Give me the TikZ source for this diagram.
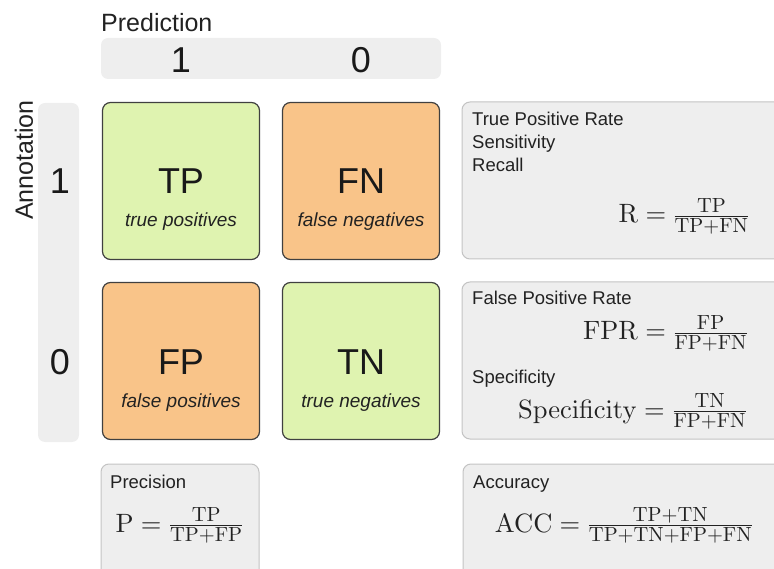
\documentclass[tikz,border=0pt]{standalone}
\usepackage{fix-cm}
\usepackage[no-math]{fontspec}
\setsansfont{Liberation Sans}
\renewcommand{\familydefault}{\sfdefault}
\DeclareFontFamily{OT1}{cmrten}{}
\DeclareFontShape{OT1}{cmrten}{m}{n}{<-> cmr10}{}
\DeclareSymbolFont{operators}{OT1}{cmrten}{m}{n}
\definecolor{posgreen}{RGB}{223,243,176}
\definecolor{negorange}{RGB}{249,196,137}
\definecolor{cellline}{RGB}{64,64,64}
\definecolor{panelgray}{RGB}{238,238,238}
\definecolor{panelline}{RGB}{195,195,195}
\definecolor{inkgray}{RGB}{34,34,34}
\newcommand{\fracpart}[1]{\hbox{\fontsize{20.5}{24}\selectfont$#1$}}
\newcommand{\cmfrac}[2]{\frac{\fracpart{#1}}{\fracpart{#2}}}

\begin{document}
\begin{tikzpicture}[x=1pt,y=-1pt,
    cell/.style={draw=cellline,line width=1.2pt,rounded corners=8pt,minimum width=157pt,minimum height=157pt},
    panel/.style={draw=panelline,fill=panelgray,line width=1pt,rounded corners=8pt,minimum width=338pt,minimum height=157pt},
    bar/.style={fill=panelgray,rounded corners=7pt},
    bigtxt/.style={font=\fontsize{36}{40}\selectfont,text=black!90,inner sep=0pt,anchor=base},
    celltxt/.style={font=\fontsize{19}{22}\selectfont\itshape,text=inkgray,inner sep=0pt,anchor=base},
    lbl/.style={font=\fontsize{18.5}{22}\selectfont,text=inkgray,inner sep=0pt,anchor=base west},
    formula/.style={font=\fontsize{26.5}{32}\selectfont,text=inkgray,inner sep=0pt,anchor=base}]
    \useasboundingbox (0,0) rectangle (774,569);

    \node[bar,minimum width=340pt,minimum height=41pt] (predbar) at (271,58.5) {};
    \node[lbl,font=\fontsize{25}{28}\selectfont] (predlbl) at (101,32) {Prediction};
    \node[bigtxt] (pred1) at (181,73) {1};
    \node[bigtxt] (pred0) at (361,73) {0};

    \node[bar,minimum width=41pt,minimum height=339pt] (annbar) at (58.5,272.5) {};
    \node[font=\fontsize{25}{28}\selectfont,text=inkgray,inner sep=0pt,rotate=90] (annlbl) at (24,160) {Annotation};
    \node[bigtxt] (ann1) at (60,194) {1};
    \node[bigtxt] (ann0) at (60,374) {0};

    \foreach \n/\cx/\cy/\col/\ab/\txt in {tp/181/181/posgreen/TP/true positives,
        fn/361/181/negorange/FN/false negatives,
        fp/181/361/negorange/FP/false positives,
        tn/361/361/posgreen/TN/true negatives}{
        \node[cell,fill=\col] (\n) at (\cx,\cy) {};
        \node[bigtxt] (\n-ab) at (\cx,\cy+13) {\ab};
        \node[celltxt] (\n-txt) at (\cx,\cy+46) {\txt};
    }

    \node[panel] (recall) at (631,180.5) {};
    \node[lbl] (recall-a) at (472,126) {True Positive Rate};
    \node[lbl] (recall-b) at (472,149) {Sensitivity};
    \node[lbl] (recall-c) at (472,172) {Recall};
    \node[formula] (recall-f) at (684,223) {$\mathrm{R} = \cmfrac{\mathrm{TP}}{\mathrm{TP}{+}\mathrm{FN}}$};

    \node[panel] (fpr) at (631,360.5) {};
    \node[lbl] (fpr-a) at (472,305) {False Positive Rate};
    \node[formula] (fpr-f) at (665.5,340) {$\mathrm{FPR} = \cmfrac{\mathrm{FP}}{\mathrm{FP}{+}\mathrm{FN}}$};
    \node[lbl] (spec-a) at (472,384) {Specificity};
    \node[formula] (spec-f) at (632.5,418) {$\mathrm{Specificity} = \cmfrac{\mathrm{TN}}{\mathrm{FP}{+}\mathrm{FN}}$};

    \node[panel,minimum width=158pt] (prec) at (180,542.5) {};
    \node[lbl] (prec-a) at (110,488) {Precision};
    \node[formula] (prec-f) at (179.5,532) {$\mathrm{P} = \cmfrac{\mathrm{TP}}{\mathrm{TP}{+}\mathrm{FP}}$};

    \node[panel] (acc) at (632,542.5) {};
    \node[lbl] (acc-a) at (473,488) {Accuracy};
    \node[formula] (acc-f) at (624,532) {$\mathrm{ACC} = \cmfrac{\mathrm{TP}{+}\mathrm{TN}}{\mathrm{TP}{+}\mathrm{TN}{+}\mathrm{FP}{+}\mathrm{FN}}$};
\end{tikzpicture}
\end{document}
